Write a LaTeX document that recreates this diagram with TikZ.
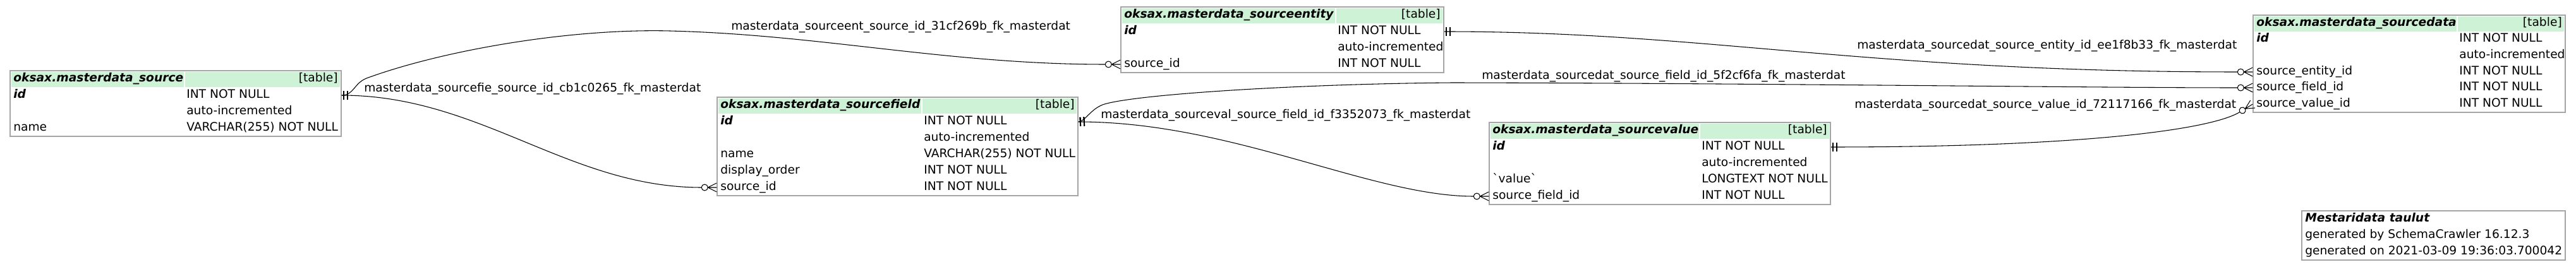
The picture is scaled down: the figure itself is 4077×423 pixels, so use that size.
\documentclass[tikz,border=0pt]{standalone}
\usepackage{fontspec}
\setmainfont{DejaVu Sans}[BoldFont={DejaVu Sans Bold},ItalicFont={DejaVu Sans Oblique},BoldItalicFont={DejaVu Sans Bold Oblique}]
\usepackage{xcolor}
\usepackage{tikz}
\usetikzlibrary{arrows.meta}

\definecolor{hdrgreen}{RGB}{206,242,214}
\definecolor{tblgray}{RGB}{165,165,165}

% zero-or-many end (circle + crow's foot)
\pgfdeclarearrow{
  name = fkcrow,
  setup code = {
    \pgfarrowssettipend{0pt}
    \pgfarrowssetlineend{-18pt}
    \pgfarrowssetbackend{-18pt}
    \pgfarrowssetvisualbackend{-18pt}
    \pgfarrowshullpoint{0pt}{5.25pt}
    \pgfarrowshullpoint{0pt}{-5.25pt}
    \pgfarrowshullpoint{-18pt}{3.75pt}
    \pgfarrowshullpoint{-18pt}{-3.75pt}
  },
  drawing code = {
    \pgfsetdash{}{0pt}
    \pgfsetroundjoin
    \pgfpathcircle{\pgfpoint{-14.25pt}{0pt}}{3.75pt}
    \pgfpathmoveto{\pgfpoint{0pt}{5.25pt}}
    \pgfpathlineto{\pgfpoint{-10.5pt}{0pt}}
    \pgfpathlineto{\pgfpoint{0pt}{-5.25pt}}
    \pgfpathmoveto{\pgfpoint{-10.5pt}{0pt}}
    \pgfpathlineto{\pgfpoint{0pt}{0pt}}
    \pgfusepathqstroke
  }
}
% exactly-one end (double bar)
\pgfdeclarearrow{
  name = pkbar,
  setup code = {
    \pgfarrowssettipend{0pt}
    \pgfarrowssetlineend{0pt}
    \pgfarrowssetbackend{-7.5pt}
    \pgfarrowshullpoint{0pt}{5.25pt}
    \pgfarrowshullpoint{0pt}{-5.25pt}
    \pgfarrowshullpoint{-7.5pt}{5.25pt}
    \pgfarrowshullpoint{-7.5pt}{-5.25pt}
  },
  drawing code = {
    \pgfsetdash{}{0pt}
    \pgfsetlinewidth{1.5pt}
    \pgfsetbuttcap
    \pgfpathmoveto{\pgfpoint{-2.25pt}{5.25pt}}
    \pgfpathlineto{\pgfpoint{-2.25pt}{-5.25pt}}
    \pgfpathmoveto{\pgfpoint{-6.75pt}{5.25pt}}
    \pgfpathlineto{\pgfpoint{-6.75pt}{-5.25pt}}
    \pgfusepathqstroke
  }
}

\begin{document}
\begin{tikzpicture}[x=0.75pt, y=-0.75pt,
    tbl/.style={draw=tblgray, line width=1.1pt, inner sep=0pt},
    hdr/.style={fill=hdrgreen},
    txt/.style={anchor=west, inner sep=0pt, text height=10.5pt, text depth=3.5pt, font=\fontsize{14pt}{17pt}\selectfont},
    tname/.style={txt, font=\fontsize{14pt}{17pt}\selectfont\bfseries\itshape},
    tag/.style={txt, anchor=east},
    rel/.style={line width=0.8pt, pkbar-fkcrow}
  ]
    \useasboundingbox (0,0) rectangle (4077,423);

    % header rows
    \fill[hdr] (18,114) rectangle (291,138);
    \fill[hdr] (292.5,114) rectangle (538,138);
    \fill[hdr] (1137,156) rectangle (1458,180);
    \fill[hdr] (1459.5,156) rectangle (1704,180);
    \fill[hdr] (1776,13) rectangle (2113,37);
    \fill[hdr] (2114.5,13) rectangle (2283,37);
    \fill[hdr] (2359,196) rectangle (2689,220);
    \fill[hdr] (2690.5,196) rectangle (2895,220);
    \fill[hdr] (3568,26) rectangle (3888,50);
    \fill[hdr] (3889.5,26) rectangle (4058,50);

    % masterdata_source
    \node[tbl, minimum width=393pt, minimum height=78pt] (src) at (278,164) {};
    \node[tname] (src-head) at (21,125) {oksax.masterdata\_source};
    \node[tag] (src-tag) at (535,125) {[table]};
    \node[tname] (src-id) at (21,151) {id};
    \node[txt] (src-idt) at (295,151) {INT NOT NULL};
    \node[txt] (src-autot) at (295,177) {auto-incremented};
    \node[txt] (src-name) at (21,203) {name};
    \node[txt] (src-namet) at (295,203) {VARCHAR(255) NOT NULL};

    % masterdata_sourcefield
    \node[tbl, minimum width=428.25pt, minimum height=117pt] (fld) at (1420.5,232) {};
    \node[tname] (fld-head) at (1140,167) {oksax.masterdata\_sourcefield};
    \node[tag] (fld-tag) at (1701,167) {[table]};
    \node[tname] (fld-id) at (1140,193) {id};
    \node[txt] (fld-idt) at (1462,193) {INT NOT NULL};
    \node[txt] (fld-autot) at (1462,219) {auto-incremented};
    \node[txt] (fld-name) at (1140,245) {name};
    \node[txt] (fld-namet) at (1462,245) {VARCHAR(255) NOT NULL};
    \node[txt] (fld-order) at (1140,271) {display\_order};
    \node[txt] (fld-ordert) at (1462,271) {INT NOT NULL};
    \node[txt] (fld-srcid) at (1140,297) {source\_id};
    \node[txt] (fld-srcidt) at (1462,297) {INT NOT NULL};

    % masterdata_sourceentity
    \node[tbl, minimum width=383.25pt, minimum height=78pt] (ent) at (2029.5,63) {};
    \node[tname] (ent-head) at (1779,24) {oksax.masterdata\_sourceentity};
    \node[tag] (ent-tag) at (2280,24) {[table]};
    \node[tname] (ent-id) at (1779,50) {id};
    \node[txt] (ent-idt) at (2117,50) {INT NOT NULL};
    \node[txt] (ent-autot) at (2117,76) {auto-incremented};
    \node[txt] (ent-srcid) at (1779,102) {source\_id};
    \node[txt] (ent-srcidt) at (2117,102) {INT NOT NULL};

    % masterdata_sourcevalue
    \node[tbl, minimum width=405pt, minimum height=97.5pt] (val) at (2627,259) {};
    \node[tname] (val-head) at (2362,207) {oksax.masterdata\_sourcevalue};
    \node[tag] (val-tag) at (2892,207) {[table]};
    \node[tname] (val-id) at (2362,233) {id};
    \node[txt] (val-idt) at (2693,233) {INT NOT NULL};
    \node[txt] (val-autot) at (2693,259) {auto-incremented};
    \node[txt] (val-value) at (2362,285) {\textasciigrave value\textasciigrave};
    \node[txt] (val-valuet) at (2693,285) {LONGTEXT NOT NULL};
    \node[txt] (val-fieldid) at (2362,311) {source\_field\_id};
    \node[txt] (val-fieldidt) at (2693,311) {INT NOT NULL};

    % masterdata_sourcedata
    \node[tbl, minimum width=370.5pt, minimum height=115.5pt] (dat) at (3813,101) {};
    \node[tname] (dat-head) at (3571,37) {oksax.masterdata\_sourcedata};
    \node[tag] (dat-tag) at (4055,37) {[table]};
    \node[tname] (dat-id) at (3571,62) {id};
    \node[txt] (dat-idt) at (3892,62) {INT NOT NULL};
    \node[txt] (dat-autot) at (3892,88) {auto-incremented};
    \node[txt] (dat-entid) at (3571,114) {source\_entity\_id};
    \node[txt] (dat-entidt) at (3892,114) {INT NOT NULL};
    \node[txt] (dat-fieldid) at (3571,139) {source\_field\_id};
    \node[txt] (dat-fieldidt) at (3892,139) {INT NOT NULL};
    \node[txt] (dat-valueid) at (3571,165) {source\_value\_id};
    \node[txt] (dat-valueidt) at (3892,165) {INT NOT NULL};

    % legend
    \node[tbl, minimum width=312.75pt, minimum height=58.5pt] (leg) at (3851.5,373) {};
    \node[tname] (leg-title) at (3648,347) {Mestaridata taulut};
    \node[txt] (leg-by) at (3648,373) {generated by SchemaCrawler 16.12.3};
    \node[txt] (leg-on) at (3648,399) {generated on 2021-03-09 19:36:03.700042};

    % foreign keys
    \draw[rel] (src.east |- src-id) .. controls (560,151) and (560,132) .. (580,124)
      .. controls (700,80) and (900,45) .. (1060,49)
      .. controls (1300,55) and (1500,102) .. (ent.west |- ent-srcid);
    \draw[rel] (src.east |- src-id) .. controls (760,151) and (900,297) .. (fld.west |- fld-srcid);
    \draw[rel] (fld.east |- fld-id) .. controls (1950,193) and (2170,311) .. (val.west |- val-fieldid);
    \draw[rel] (fld.east |- fld-id) .. controls (1718,192) and (1725,174) .. (1745,166)
      .. controls (1790,150) and (2050,133) .. (2300,131)
      .. controls (2800,132) and (3300,139) .. (dat.west |- dat-fieldid);
    \draw[rel] (ent.east |- ent-id) .. controls (2700,50) and (2950,114) .. (dat.west |- dat-entid);
    \draw[rel] (val.east |- val-id) .. controls (3300,233) and (3500,205) .. (dat.west |- dat-valueid);

    \node[txt] (lbl-ent) at (1157,43) {masterdata\_sourceent\_source\_id\_31cf269b\_fk\_masterdat};
    \node[txt] (lbl-fie) at (576,141) {masterdata\_sourcefie\_source\_id\_cb1c0265\_fk\_masterdat};
    \node[txt] (lbl-val) at (1742,183) {masterdata\_sourceval\_source\_field\_id\_f3352073\_fk\_masterdat};
    \node[txt] (lbl-datfld) at (2345,121) {masterdata\_sourcedat\_source\_field\_id\_5f2cf6fa\_fk\_masterdat};
    \node[txt] (lbl-datent) at (2939,73) {masterdata\_sourcedat\_source\_entity\_id\_ee1f8b33\_fk\_masterdat};
    \node[txt] (lbl-datval) at (2935,167) {masterdata\_sourcedat\_source\_value\_id\_72117166\_fk\_masterdat};
\end{tikzpicture}
\end{document}
